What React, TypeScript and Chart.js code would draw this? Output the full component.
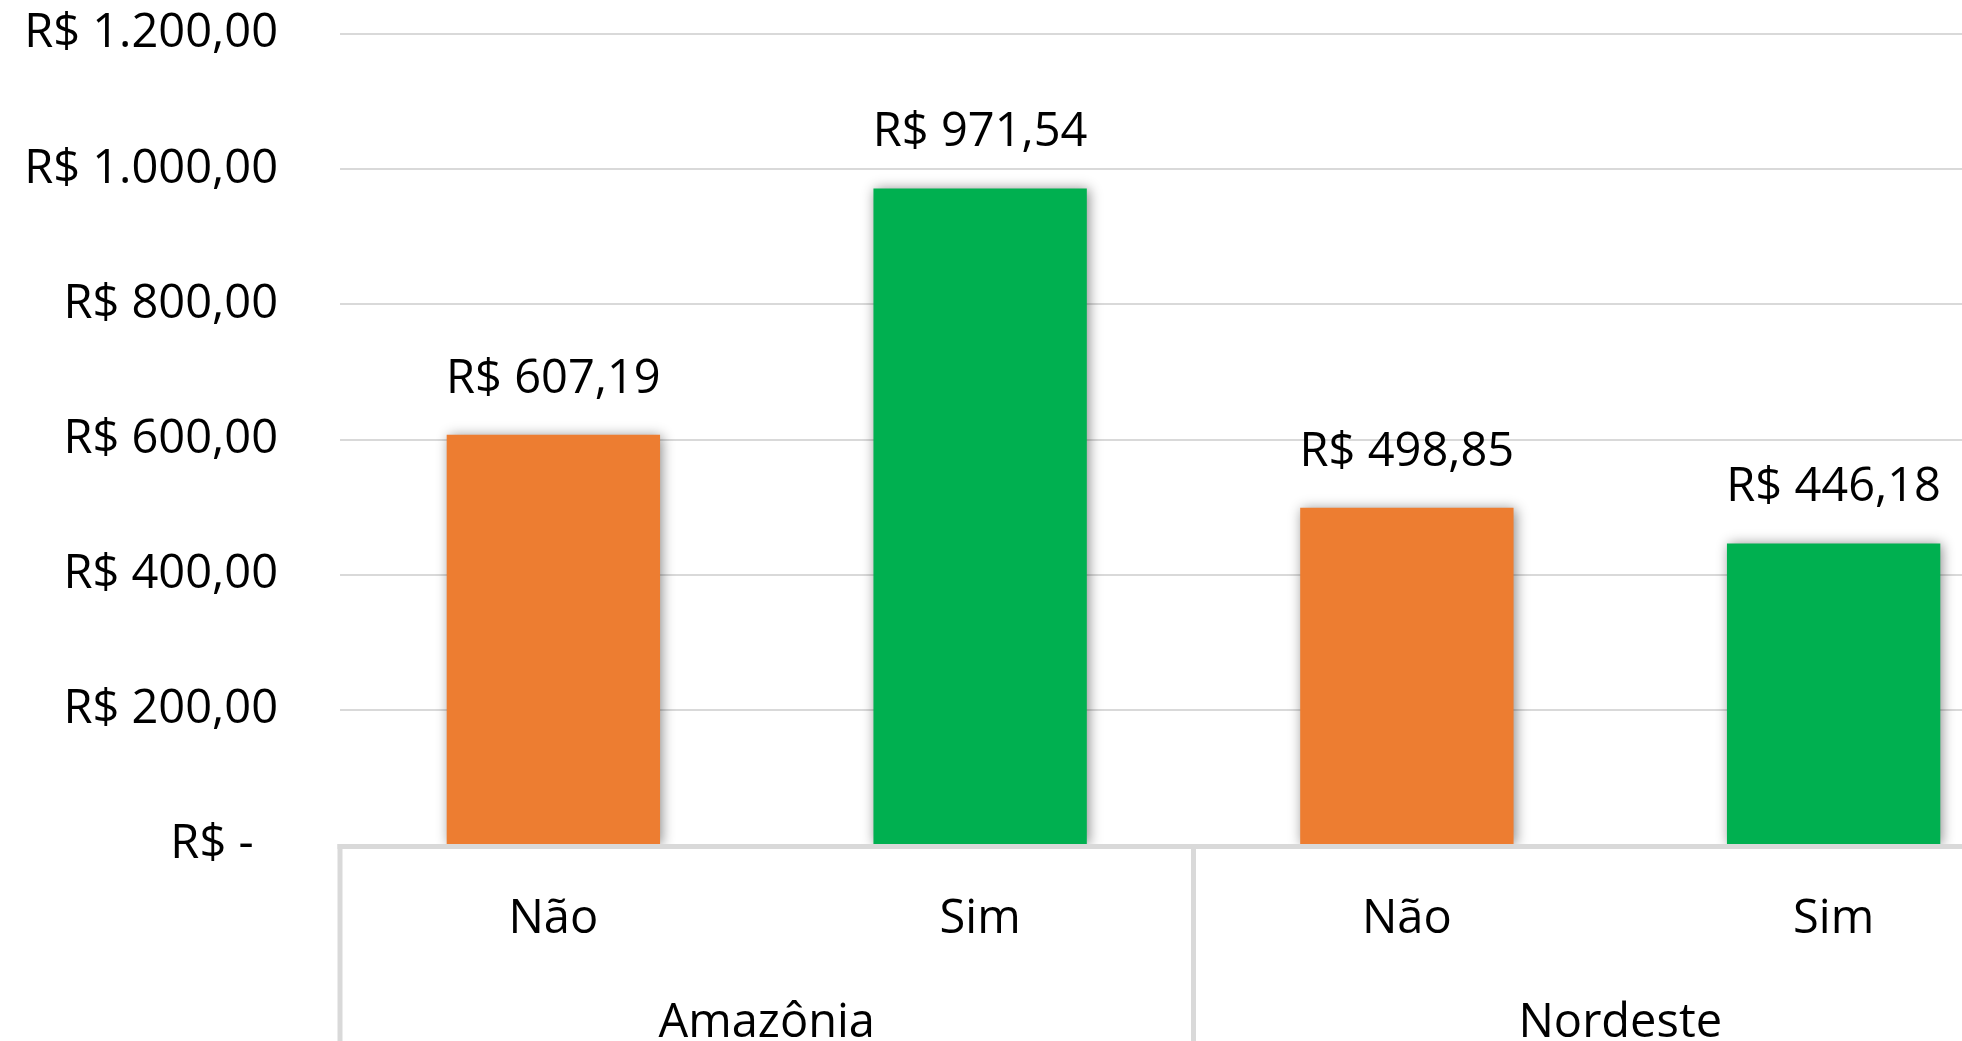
import { useEffect, useRef } from "react";
import { Chart, registerables } from "chart.js";

Chart.register(...registerables);

const categories = ["Não", "Sim", "Não", "Sim"];
const regions = ["Amazônia", "Nordeste"];
const values = [607.19, 971.54, 498.85, 446.18];
const barColors = ["#ED7D31", "#00B050", "#ED7D31", "#00B050"];
const yMin = 0;
const yMax = 1200;
const yStep = 200;

const FAMILY = '"Open Sans", sans-serif';
const SIZE = 47;

function brl(v: number): string {
  if (v === 0) return "R$ -\u00A0\u00A0";
  const [i, d] = v.toFixed(2).split(".");
  const withSep = i.replace(/\B(?=(\d{3})+(?!\d))/g, ".");
  return `R$ ${withSep},${d}`;
}

const decor = {
  id: "decor",
  beforeDatasetsDraw(chart: any) {
    const ctx = chart.ctx;
    ctx.save();
    ctx.shadowColor = "rgba(0,0,0,0.45)";
    ctx.shadowBlur = 12;
    ctx.shadowOffsetX = 2;
    ctx.shadowOffsetY = 1;
  },
  afterDatasetsDraw(chart: any) {
    const ctx = chart.ctx;
    ctx.restore();
    const meta = chart.getDatasetMeta(0);
    ctx.save();
    ctx.font = `${SIZE}px ${FAMILY}`;
    ctx.fillStyle = "#000";
    ctx.textAlign = "center";
    ctx.textBaseline = "alphabetic";
    meta.data.forEach((bar: any, i: number) => {
      ctx.fillText(brl(values[i]), bar.x, bar.y - 42);
    });
    ctx.restore();
  },
  afterDraw(chart: any) {
    const ctx = chart.ctx;
    const x = chart.scales.x;
    const bottom = chart.chartArea.bottom;
    const lw = 5;
    ctx.save();
    ctx.fillStyle = "#d9d9d9";
    ctx.fillRect(x.left - lw / 2, bottom - 1, x.right - x.left + lw, lw);
    const mid = (x.getPixelForValue(1) + x.getPixelForValue(2)) / 2;
    [x.left, mid, x.right].forEach((px: number) => {
      ctx.fillRect(px - lw / 2, bottom - 1, lw, chart.height - bottom + 1);
    });
    ctx.restore();
  },
};

export default function App() {
  const ref = useRef<HTMLCanvasElement>(null);
  useEffect(() => {
    if (!ref.current) return;
    const font = { family: FAMILY, size: SIZE };
    const chart = new Chart(ref.current, {
      type: "bar",
      data: {
        labels: categories,
        datasets: [
          {
            data: values,
            backgroundColor: barColors,
            barPercentage: 0.5,
            categoryPercentage: 1,
            xAxisID: "x",
            yAxisID: "y",
          },
        ],
      },
      options: {
        animation: false,
        responsive: false,
        layout: { padding: { left: 0, right: 53, top: 34, bottom: 0 } },
        plugins: { legend: { display: false }, tooltip: { enabled: false } },
        scales: {
          x: {
            type: "category",
            position: "bottom",
            offset: true,
            grid: { display: false },
            border: { display: false },
            ticks: { font, color: "#000", padding: 38, maxRotation: 0, autoSkip: false },
            afterFit: (s: any) => {
              s.height = 110;
              s.paddingLeft = 0;
              s.paddingRight = 0;
            },
          },
          x2: {
            type: "category",
            labels: regions,
            position: "bottom",
            offset: true,
            grid: { display: false },
            border: { display: false },
            ticks: { font, color: "#000", padding: 32, maxRotation: 0, autoSkip: false },
            afterFit: (s: any) => {
              s.height = 86;
              s.paddingLeft = 0;
              s.paddingRight = 0;
            },
          },
          y: {
            min: yMin,
            max: yMax,
            ticks: {
              stepSize: yStep,
              callback: (v: any) => brl(Number(v)),
              font,
              color: "#000",
              padding: 62,
            },
            grid: { color: "#d9d9d9", lineWidth: 2, drawTicks: false },
            border: { display: false },
            afterFit: (s: any) => {
              s.width = 340;
              s.paddingTop = 0;
              s.paddingBottom = 0;
            },
          },
        },
      },
      plugins: [decor],
    } as any);
    return () => chart.destroy();
  }, []);
  return (
    <div
      style={{
        position: "fixed",
        left: 0,
        top: 0,
        width: "100vw",
        height: "100vh",
        overflow: "hidden",
        background: "#fff",
      }}
    >
      <canvas ref={ref} width={2100} height={1041} style={{ display: "block" }} />
    </div>
  );
}
